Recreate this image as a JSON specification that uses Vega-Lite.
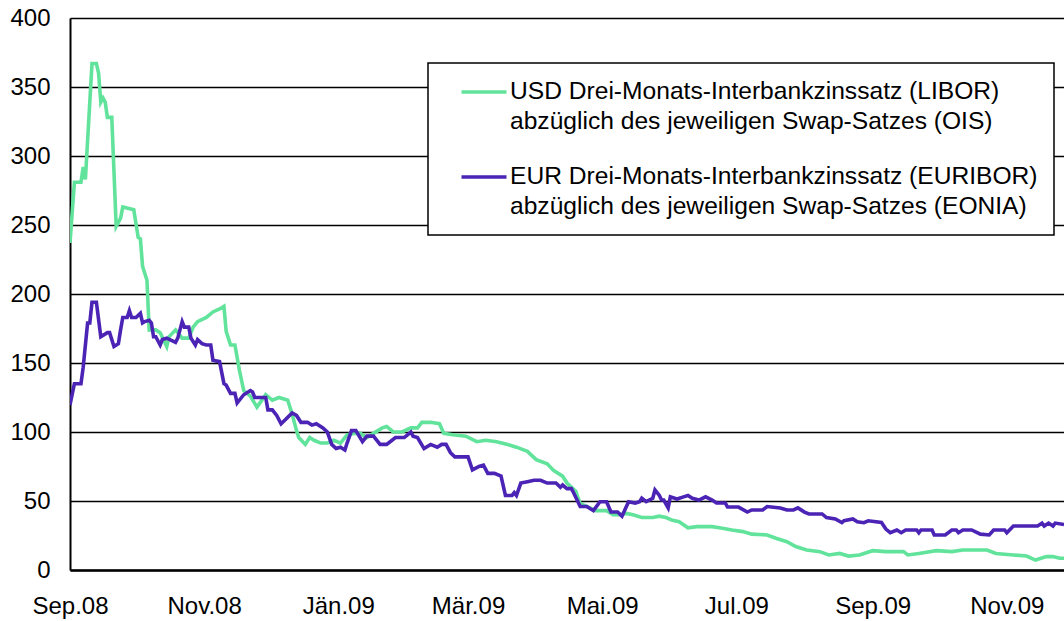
{
"$schema":"https://vega.github.io/schema/vega-lite/v6.json",
"width":994,"height":552,
"autosize":"none",
"padding":{"left":70,"top":18,"right":0,"bottom":51},
"background":"white",
"config":{"view":{"stroke":null},"font":"Liberation Sans"},
"data":{"values":[
{"s":"USD","d":"2008-09-01","v":237},{"s":"USD","d":"2008-09-03","v":281},{"s":"USD","d":"2008-09-06","v":281},{"s":"USD","d":"2008-09-07","v":292},{"s":"USD","d":"2008-09-08","v":283},{"s":"USD","d":"2008-09-11","v":367},{"s":"USD","d":"2008-09-13","v":367},{"s":"USD","d":"2008-09-14","v":360},{"s":"USD","d":"2008-09-15","v":339},{"s":"USD","d":"2008-09-16","v":342},{"s":"USD","d":"2008-09-17","v":339},{"s":"USD","d":"2008-09-18","v":328},{"s":"USD","d":"2008-09-20","v":328},{"s":"USD","d":"2008-09-22","v":249},{"s":"USD","d":"2008-09-24","v":255},{"s":"USD","d":"2008-09-25","v":263},{"s":"USD","d":"2008-09-30","v":261},{"s":"USD","d":"2008-10-02","v":241},{"s":"USD","d":"2008-10-03","v":240},{"s":"USD","d":"2008-10-04","v":220},{"s":"USD","d":"2008-10-06","v":210},{"s":"USD","d":"2008-10-07","v":174},{"s":"USD","d":"2008-10-10","v":174},{"s":"USD","d":"2008-10-12","v":172},{"s":"USD","d":"2008-10-15","v":162},{"s":"USD","d":"2008-10-16","v":169},{"s":"USD","d":"2008-10-19","v":174},{"s":"USD","d":"2008-10-20","v":172},{"s":"USD","d":"2008-10-22","v":168},{"s":"USD","d":"2008-10-25","v":168},{"s":"USD","d":"2008-10-27","v":176},{"s":"USD","d":"2008-10-29","v":180},{"s":"USD","d":"2008-11-02","v":183},{"s":"USD","d":"2008-11-05","v":187},{"s":"USD","d":"2008-11-09","v":190},{"s":"USD","d":"2008-11-10","v":191},{"s":"USD","d":"2008-11-11","v":173},{"s":"USD","d":"2008-11-13","v":163},{"s":"USD","d":"2008-11-15","v":163},{"s":"USD","d":"2008-11-17","v":145},{"s":"USD","d":"2008-11-19","v":130},{"s":"USD","d":"2008-11-22","v":126},{"s":"USD","d":"2008-11-25","v":118},{"s":"USD","d":"2008-11-29","v":127},{"s":"USD","d":"2008-12-02","v":123},{"s":"USD","d":"2008-12-05","v":125},{"s":"USD","d":"2008-12-09","v":123},{"s":"USD","d":"2008-12-11","v":113},{"s":"USD","d":"2008-12-13","v":101},{"s":"USD","d":"2008-12-14","v":96},{"s":"USD","d":"2008-12-17","v":91},{"s":"USD","d":"2008-12-19","v":96},{"s":"USD","d":"2008-12-21","v":94},{"s":"USD","d":"2008-12-24","v":92},{"s":"USD","d":"2008-12-27","v":92},{"s":"USD","d":"2008-12-30","v":94},{"s":"USD","d":"2009-01-02","v":92},{"s":"USD","d":"2009-01-05","v":98},{"s":"USD","d":"2009-01-08","v":99},{"s":"USD","d":"2009-01-11","v":99},{"s":"USD","d":"2009-01-14","v":96},{"s":"USD","d":"2009-01-17","v":99},{"s":"USD","d":"2009-01-21","v":103},{"s":"USD","d":"2009-01-23","v":104},{"s":"USD","d":"2009-01-26","v":100},{"s":"USD","d":"2009-01-30","v":100},{"s":"USD","d":"2009-02-03","v":103},{"s":"USD","d":"2009-02-06","v":103},{"s":"USD","d":"2009-02-08","v":107},{"s":"USD","d":"2009-02-12","v":107},{"s":"USD","d":"2009-02-16","v":106},{"s":"USD","d":"2009-02-18","v":99},{"s":"USD","d":"2009-02-22","v":98},{"s":"USD","d":"2009-02-28","v":97},{"s":"USD","d":"2009-03-05","v":93},{"s":"USD","d":"2009-03-09","v":94},{"s":"USD","d":"2009-03-14","v":93},{"s":"USD","d":"2009-03-19","v":91},{"s":"USD","d":"2009-03-23","v":89},{"s":"USD","d":"2009-03-28","v":86},{"s":"USD","d":"2009-04-01","v":80},{"s":"USD","d":"2009-04-06","v":77},{"s":"USD","d":"2009-04-09","v":72},{"s":"USD","d":"2009-04-13","v":68},{"s":"USD","d":"2009-04-15","v":63},{"s":"USD","d":"2009-04-19","v":57},{"s":"USD","d":"2009-04-21","v":48},{"s":"USD","d":"2009-04-24","v":46},{"s":"USD","d":"2009-04-28","v":43},{"s":"USD","d":"2009-05-03","v":43},{"s":"USD","d":"2009-05-06","v":40},{"s":"USD","d":"2009-05-09","v":40},{"s":"USD","d":"2009-05-12","v":41},{"s":"USD","d":"2009-05-15","v":40},{"s":"USD","d":"2009-05-19","v":38},{"s":"USD","d":"2009-05-24","v":38},{"s":"USD","d":"2009-05-27","v":39},{"s":"USD","d":"2009-05-30","v":38},{"s":"USD","d":"2009-06-02","v":36},{"s":"USD","d":"2009-06-05","v":35},{"s":"USD","d":"2009-06-09","v":30.6},{"s":"USD","d":"2009-06-13","v":31.4},{"s":"USD","d":"2009-06-20","v":31.4},{"s":"USD","d":"2009-06-24","v":30.4},{"s":"USD","d":"2009-06-29","v":29},{"s":"USD","d":"2009-07-04","v":27.8},{"s":"USD","d":"2009-07-08","v":26},{"s":"USD","d":"2009-07-15","v":25.4},{"s":"USD","d":"2009-07-19","v":23},{"s":"USD","d":"2009-07-24","v":20.5},{"s":"USD","d":"2009-07-28","v":17},{"s":"USD","d":"2009-08-02","v":14.5},{"s":"USD","d":"2009-08-08","v":13.3},{"s":"USD","d":"2009-08-12","v":10.9},{"s":"USD","d":"2009-08-17","v":12},{"s":"USD","d":"2009-08-21","v":10.1},{"s":"USD","d":"2009-08-26","v":10.9},{"s":"USD","d":"2009-09-01","v":14},{"s":"USD","d":"2009-09-07","v":13.3},{"s":"USD","d":"2009-09-15","v":13.3},{"s":"USD","d":"2009-09-17","v":10.9},{"s":"USD","d":"2009-09-22","v":12},{"s":"USD","d":"2009-09-30","v":14},{"s":"USD","d":"2009-10-07","v":13.3},{"s":"USD","d":"2009-10-12","v":14.5},{"s":"USD","d":"2009-10-23","v":14.5},{"s":"USD","d":"2009-10-27","v":12},{"s":"USD","d":"2009-11-04","v":10.9},{"s":"USD","d":"2009-11-10","v":10.1},{"s":"USD","d":"2009-11-14","v":7.2},{"s":"USD","d":"2009-11-19","v":9.7},{"s":"USD","d":"2009-11-22","v":9.7},{"s":"USD","d":"2009-11-25","v":8.5},{"s":"USD","d":"2009-11-27","v":8.5},
{"s":"EUR","d":"2008-09-01","v":119.6},{"s":"EUR","d":"2008-09-03","v":135},{"s":"EUR","d":"2008-09-06","v":135},{"s":"EUR","d":"2008-09-07","v":147},{"s":"EUR","d":"2008-09-09","v":179},{"s":"EUR","d":"2008-09-10","v":179},{"s":"EUR","d":"2008-09-11","v":194},{"s":"EUR","d":"2008-09-13","v":194},{"s":"EUR","d":"2008-09-15","v":169},{"s":"EUR","d":"2008-09-18","v":172},{"s":"EUR","d":"2008-09-19","v":172},{"s":"EUR","d":"2008-09-21","v":162},{"s":"EUR","d":"2008-09-23","v":164},{"s":"EUR","d":"2008-09-24","v":174},{"s":"EUR","d":"2008-09-25","v":183},{"s":"EUR","d":"2008-09-27","v":183},{"s":"EUR","d":"2008-09-28","v":188},{"s":"EUR","d":"2008-09-29","v":183},{"s":"EUR","d":"2008-10-01","v":183},{"s":"EUR","d":"2008-10-03","v":186},{"s":"EUR","d":"2008-10-04","v":179},{"s":"EUR","d":"2008-10-05","v":180},{"s":"EUR","d":"2008-10-07","v":181},{"s":"EUR","d":"2008-10-08","v":179},{"s":"EUR","d":"2008-10-09","v":169},{"s":"EUR","d":"2008-10-10","v":169},{"s":"EUR","d":"2008-10-12","v":163},{"s":"EUR","d":"2008-10-13","v":167},{"s":"EUR","d":"2008-10-15","v":168},{"s":"EUR","d":"2008-10-19","v":165},{"s":"EUR","d":"2008-10-20","v":168},{"s":"EUR","d":"2008-10-22","v":180},{"s":"EUR","d":"2008-10-23","v":176},{"s":"EUR","d":"2008-10-25","v":176},{"s":"EUR","d":"2008-10-26","v":168},{"s":"EUR","d":"2008-10-28","v":163},{"s":"EUR","d":"2008-10-29","v":167},{"s":"EUR","d":"2008-10-31","v":164},{"s":"EUR","d":"2008-11-02","v":163},{"s":"EUR","d":"2008-11-04","v":163},{"s":"EUR","d":"2008-11-05","v":152},{"s":"EUR","d":"2008-11-08","v":151},{"s":"EUR","d":"2008-11-10","v":135},{"s":"EUR","d":"2008-11-11","v":134},{"s":"EUR","d":"2008-11-13","v":128},{"s":"EUR","d":"2008-11-15","v":128},{"s":"EUR","d":"2008-11-16","v":121},{"s":"EUR","d":"2008-11-19","v":127},{"s":"EUR","d":"2008-11-22","v":130},{"s":"EUR","d":"2008-11-23","v":129},{"s":"EUR","d":"2008-11-24","v":125},{"s":"EUR","d":"2008-11-29","v":125},{"s":"EUR","d":"2008-11-30","v":116},{"s":"EUR","d":"2008-12-02","v":116},{"s":"EUR","d":"2008-12-04","v":112},{"s":"EUR","d":"2008-12-06","v":106},{"s":"EUR","d":"2008-12-08","v":109},{"s":"EUR","d":"2008-12-11","v":113.8},{"s":"EUR","d":"2008-12-13","v":112},{"s":"EUR","d":"2008-12-15","v":107},{"s":"EUR","d":"2008-12-18","v":107},{"s":"EUR","d":"2008-12-20","v":105},{"s":"EUR","d":"2008-12-22","v":106},{"s":"EUR","d":"2008-12-25","v":103},{"s":"EUR","d":"2008-12-27","v":100},{"s":"EUR","d":"2008-12-29","v":91},{"s":"EUR","d":"2008-12-31","v":88},{"s":"EUR","d":"2009-01-02","v":89},{"s":"EUR","d":"2009-01-04","v":87},{"s":"EUR","d":"2009-01-05","v":92},{"s":"EUR","d":"2009-01-07","v":101},{"s":"EUR","d":"2009-01-09","v":101},{"s":"EUR","d":"2009-01-12","v":93},{"s":"EUR","d":"2009-01-14","v":97},{"s":"EUR","d":"2009-01-17","v":97},{"s":"EUR","d":"2009-01-20","v":91},{"s":"EUR","d":"2009-01-23","v":91},{"s":"EUR","d":"2009-01-27","v":96},{"s":"EUR","d":"2009-01-31","v":96},{"s":"EUR","d":"2009-02-03","v":100},{"s":"EUR","d":"2009-02-04","v":97},{"s":"EUR","d":"2009-02-06","v":96},{"s":"EUR","d":"2009-02-09","v":88},{"s":"EUR","d":"2009-02-12","v":91},{"s":"EUR","d":"2009-02-15","v":89},{"s":"EUR","d":"2009-02-17","v":91},{"s":"EUR","d":"2009-02-19","v":91},{"s":"EUR","d":"2009-02-21","v":85},{"s":"EUR","d":"2009-02-23","v":82},{"s":"EUR","d":"2009-03-01","v":82},{"s":"EUR","d":"2009-03-03","v":72.5},{"s":"EUR","d":"2009-03-06","v":75},{"s":"EUR","d":"2009-03-08","v":76},{"s":"EUR","d":"2009-03-10","v":70},{"s":"EUR","d":"2009-03-13","v":70},{"s":"EUR","d":"2009-03-16","v":68},{"s":"EUR","d":"2009-03-18","v":54},{"s":"EUR","d":"2009-03-21","v":54},{"s":"EUR","d":"2009-03-22","v":56},{"s":"EUR","d":"2009-03-23","v":54},{"s":"EUR","d":"2009-03-25","v":63},{"s":"EUR","d":"2009-03-28","v":64},{"s":"EUR","d":"2009-03-31","v":65},{"s":"EUR","d":"2009-04-03","v":65},{"s":"EUR","d":"2009-04-06","v":63},{"s":"EUR","d":"2009-04-10","v":63},{"s":"EUR","d":"2009-04-12","v":60},{"s":"EUR","d":"2009-04-13","v":61.6},{"s":"EUR","d":"2009-04-15","v":59},{"s":"EUR","d":"2009-04-17","v":59},{"s":"EUR","d":"2009-04-18","v":56},{"s":"EUR","d":"2009-04-21","v":46},{"s":"EUR","d":"2009-04-24","v":46},{"s":"EUR","d":"2009-04-27","v":43},{"s":"EUR","d":"2009-04-30","v":49.5},{"s":"EUR","d":"2009-05-03","v":49.5},{"s":"EUR","d":"2009-05-05","v":42},{"s":"EUR","d":"2009-05-08","v":42},{"s":"EUR","d":"2009-05-10","v":39},{"s":"EUR","d":"2009-05-13","v":49.5},{"s":"EUR","d":"2009-05-16","v":48.5},{"s":"EUR","d":"2009-05-18","v":49.5},{"s":"EUR","d":"2009-05-19","v":52},{"s":"EUR","d":"2009-05-21","v":49.5},{"s":"EUR","d":"2009-05-24","v":52},{"s":"EUR","d":"2009-05-25","v":58},{"s":"EUR","d":"2009-05-27","v":54},{"s":"EUR","d":"2009-05-28","v":50.7},{"s":"EUR","d":"2009-05-29","v":50.7},{"s":"EUR","d":"2009-05-31","v":45},{"s":"EUR","d":"2009-06-01","v":53},{"s":"EUR","d":"2009-06-04","v":51.4},{"s":"EUR","d":"2009-06-07","v":53},{"s":"EUR","d":"2009-06-09","v":54},{"s":"EUR","d":"2009-06-11","v":52},{"s":"EUR","d":"2009-06-14","v":50.7},{"s":"EUR","d":"2009-06-17","v":53},{"s":"EUR","d":"2009-06-20","v":50.7},{"s":"EUR","d":"2009-06-22","v":48.5},{"s":"EUR","d":"2009-06-26","v":48.5},{"s":"EUR","d":"2009-06-27","v":45.6},{"s":"EUR","d":"2009-07-02","v":45.6},{"s":"EUR","d":"2009-07-06","v":42},{"s":"EUR","d":"2009-07-08","v":43.5},{"s":"EUR","d":"2009-07-13","v":43.5},{"s":"EUR","d":"2009-07-15","v":46},{"s":"EUR","d":"2009-07-21","v":44.9},{"s":"EUR","d":"2009-07-24","v":43.5},{"s":"EUR","d":"2009-07-27","v":43.5},{"s":"EUR","d":"2009-07-29","v":45},{"s":"EUR","d":"2009-08-01","v":42},{"s":"EUR","d":"2009-08-03","v":40.6},{"s":"EUR","d":"2009-08-09","v":40.6},{"s":"EUR","d":"2009-08-11","v":38},{"s":"EUR","d":"2009-08-15","v":37},{"s":"EUR","d":"2009-08-18","v":34.3},{"s":"EUR","d":"2009-08-19","v":35.7},{"s":"EUR","d":"2009-08-23","v":37},{"s":"EUR","d":"2009-08-25","v":35},{"s":"EUR","d":"2009-08-28","v":34.3},{"s":"EUR","d":"2009-08-30","v":35.7},{"s":"EUR","d":"2009-09-05","v":34.5},{"s":"EUR","d":"2009-09-07","v":29.7},{"s":"EUR","d":"2009-09-09","v":27},{"s":"EUR","d":"2009-09-12","v":29},{"s":"EUR","d":"2009-09-14","v":27},{"s":"EUR","d":"2009-09-16","v":29},{"s":"EUR","d":"2009-09-21","v":29},{"s":"EUR","d":"2009-09-22","v":27},{"s":"EUR","d":"2009-09-23","v":29},{"s":"EUR","d":"2009-09-28","v":29},{"s":"EUR","d":"2009-09-29","v":25.4},{"s":"EUR","d":"2009-10-04","v":25.4},{"s":"EUR","d":"2009-10-07","v":29},{"s":"EUR","d":"2009-10-09","v":29},{"s":"EUR","d":"2009-10-10","v":27},{"s":"EUR","d":"2009-10-12","v":29},{"s":"EUR","d":"2009-10-16","v":29},{"s":"EUR","d":"2009-10-20","v":26},{"s":"EUR","d":"2009-10-24","v":25.4},{"s":"EUR","d":"2009-10-26","v":29},{"s":"EUR","d":"2009-10-31","v":29},{"s":"EUR","d":"2009-11-01","v":27},{"s":"EUR","d":"2009-11-04","v":31.9},{"s":"EUR","d":"2009-11-15","v":31.9},{"s":"EUR","d":"2009-11-17","v":34},{"s":"EUR","d":"2009-11-18","v":31.9},{"s":"EUR","d":"2009-11-20","v":34},{"s":"EUR","d":"2009-11-22","v":31.9},{"s":"EUR","d":"2009-11-23","v":34},{"s":"EUR","d":"2009-11-27","v":33}
]},
"mark":{"type":"line","strokeWidth":3.6,"clip":true},
"encoding":{
 "x":{"field":"d","type":"temporal",
  "scale":{"type":"utc","domain":[{"year":2008,"month":9,"date":1,"utc":true},{"year":2009,"month":11,"date":27,"utc":true}]},
  "axis":{"title":null,"grid":false,"ticks":false,
   "values":[{"year":2008,"month":9,"date":1,"utc":true},{"year":2008,"month":11,"date":1,"utc":true},{"year":2009,"month":1,"date":1,"utc":true},{"year":2009,"month":3,"date":1,"utc":true},{"year":2009,"month":5,"date":1,"utc":true},{"year":2009,"month":7,"date":1,"utc":true},{"year":2009,"month":9,"date":1,"utc":true},{"year":2009,"month":11,"date":1,"utc":true}],
   "labelExpr":"['Jän','Feb','Mär','Apr','Mai','Jun','Jul','Aug','Sep','Okt','Nov','Dez'][utcmonth(datum.value)] + '.' + utcFormat(datum.value, '%y')",
   "labelFontSize":24,"labelColor":"#000","labelPadding":24,"labelOverlap":false,"labelBound":false,"labelFlush":false,
   "domainColor":"#000","domainWidth":2.5}},
 "y":{"field":"v","type":"quantitative",
  "scale":{"domain":[0,400],"nice":false},
  "axis":{"title":null,"values":[0,50,100,150,200,250,300,350,400],"ticks":false,
   "labelFontSize":24,"labelColor":"#000","labelPadding":20,
   "gridColor":"#000","gridWidth":1.6,"gridOpacity":1,
   "domainColor":"#000","domainWidth":2}},
 "color":{"field":"s","type":"nominal",
  "scale":{"domain":["USD","EUR"],"range":["#62E39B","#4B24B6"]},
  "legend":{"title":null,"orient":"none","legendX":358,"legendY":45,
   "padding":16,"fillColor":"#fff","strokeColor":"#000",
   "symbolType":"M-2,0H2","symbolSize":506.25,"symbolStrokeWidth":3.5,"symbolOffset":27,
   "labelFontSize":24.6,"labelColor":"#000","labelOffset":13,"labelLimit":2000,"rowPadding":30,
   "labelExpr":"datum.value == 'USD' ? ['USD Drei-Monats-Interbankzinssatz (LIBOR)', 'abzüglich des jeweiligen Swap-Satzes (OIS)'] : ['EUR Drei-Monats-Interbankzinssatz (EURIBOR)', 'abzüglich des jeweiligen Swap-Satzes (EONIA)']",
   "encode":{"labels":{"update":{"lineHeight":{"value":30}}},"legend":{"update":{"strokeWidth":{"value":1.5},"width":{"value":630}}}}}}
}
}
